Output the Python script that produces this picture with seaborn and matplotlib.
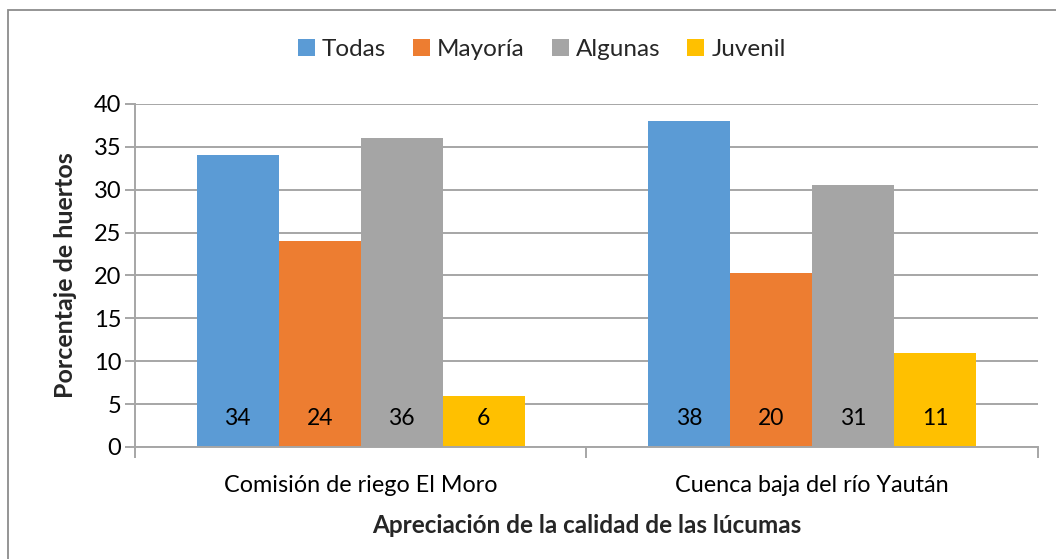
import matplotlib
matplotlib.use("Agg")
import matplotlib.pyplot as plt
import seaborn as sns
import pandas as pd
from matplotlib.patches import Rectangle

# Survey results: share of orchards by perceived lúcuma quality
categories = ["Comisión de riego El Moro", "Cuenca baja del río Yaután"]
series = ["Todas", "Mayoría", "Algunas", "Juvenil"]
todas = [34, 38]
mayoria = [24, 20.3]
algunas = [36, 30.6]
juvenil = [6, 11]
colors = ["#5B9BD5", "#ED7D31", "#A5A5A5", "#FFC000"]
y_ticks = [0, 5, 10, 15, 20, 25, 30, 35, 40]

rows = []
for name, vals in zip(series, [todas, mayoria, algunas, juvenil]):
    for cat, v in zip(categories, vals):
        rows.append({"cat": cat, "serie": name, "valor": v})
df = pd.DataFrame(rows)

sns.set_theme(style="white")
plt.rcParams["font.family"] = ["Lato", "DejaVu Sans"]

fig = plt.figure(figsize=(10.56, 5.59), dpi=100)
ax = fig.add_axes([0.1278, 0.2004, 0.855, 0.6136])

sns.barplot(data=df, x="cat", y="valor", hue="serie", order=categories,
            hue_order=series, palette=colors, width=0.727, saturation=1,
            edgecolor="none", linewidth=0, ax=ax, legend=True, errorbar=None)

ax.set_ylim(0, 40)
ax.set_xlim(-0.5, 1.5)
ax.set_yticks(y_ticks)
ax.yaxis.grid(True, color="#A6A6A6", linewidth=1.4)
ax.set_axisbelow(True)

for s in ["top", "right"]:
    ax.spines[s].set_visible(False)
for s in ["left", "bottom"]:
    ax.spines[s].set_color("#A6A6A6")
    ax.spines[s].set_linewidth(1.4)

ax.tick_params(axis="y", which="major", length=7, width=1.4, color="#A6A6A6",
               labelsize=17, labelcolor="#000000", left=True, pad=3)
ax.set_xticks([0, 1])
ax.set_xticks([-0.5, 0.5, 1.5], minor=True)
ax.tick_params(axis="x", which="major", length=0, labelsize=16.8, pad=20,
               labelcolor="#000000")
ax.tick_params(axis="x", which="minor", length=8, width=1.4, color="#A6A6A6",
               bottom=True)

# Value labels near the base of each bar
for cont in ax.containers:
    for bar, v in zip(cont.patches, cont.datavalues):
        ax.text(bar.get_x() + bar.get_width() / 2, 3.3, f"{round(v):d}",
                ha="center", va="center", fontsize=16.5, color="#000000")

ax.set_xlabel("Apreciación de la calidad de las lúcumas", fontsize=17.5,
              fontweight="bold", labelpad=13)
ax.set_ylabel("Porcentaje de huertos", fontsize=18, fontweight="bold",
              labelpad=12)

handles, labels = ax.get_legend_handles_labels()
fig.legend(handles, labels, loc="center", bbox_to_anchor=(0.513, 0.912), ncol=4,
           frameon=False, fontsize=17.5, handlelength=0.7, handleheight=0.7,
           handletextpad=0.3, columnspacing=1.1)
ax.get_legend().remove()

# Chart-area frame (runs off the right and bottom edges)
fig.patches.append(Rectangle((0.0076, -0.02), 1.02, 1.002, transform=fig.transFigure,
                             fill=False, edgecolor="#8C8C8C", linewidth=1.3))

fig.savefig("out.png", dpi=100, facecolor="white")
